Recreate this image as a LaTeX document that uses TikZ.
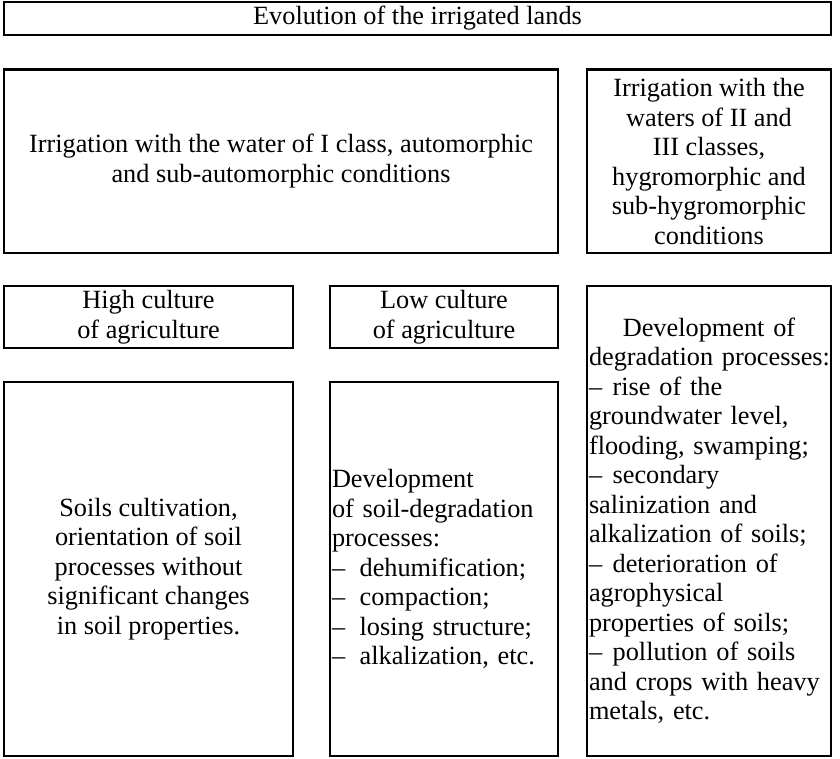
\documentclass[tikz,border=0pt]{standalone}
\usepackage{fontspec}
\setmainfont{Liberation Serif}
\usepackage{tikz}

\begin{document}
\begin{tikzpicture}[x=1pt, y=-1pt, every node/.style={font=\fontsize{26.3}{29.5}\selectfont},
	box/.style={draw, line width=2.6pt, outer sep=0pt, inner sep=2pt, anchor=north west, align=center},
	listbox/.style={box, align=left}]
			\useasboundingbox (0,0) rectangle (840,758);
			
			% Title
			\node[box, minimum width=827pt, minimum height=33pt] (title) at (4,2) {Evolution of the irrigated lands};
			
			% Water classes
			\node[box, minimum width=554pt, minimum height=183.5pt] (waterI) at (4,69.5)
				{Irrigation with the water of I class, automorphic\\and sub-automorphic conditions};
			\node[box, minimum width=244pt, minimum height=183.5pt] (waterII) at (587,69.5)
				{Irrigation with the\\waters of II and\\III classes,\\hygromorphic and\\sub-hygromorphic\\conditions};
			
			% Culture of agriculture
			\node[box, minimum width=289pt, minimum height=62pt] (high) at (4,286) {High culture\\of agriculture};
			\node[box, minimum width=228pt, minimum height=62pt] (low) at (330,286) {Low culture\\of agriculture};
			
			% Results
			\node[box, minimum width=289pt, minimum height=374pt] (cultiv) at (4,382)
				{Soils cultivation,\\orientation of soil\\processes without\\significant changes\\in soil properties.};
			\node[listbox, text width=224pt, minimum height=374pt] (soildeg) at (330,382)
				{Development\\of soil-degradation\\processes:\\
				--\hspace{0.55em}dehumification;\\--\hspace{0.55em}compaction;\\
				--\hspace{0.55em}losing structure;\\--\hspace{0.55em}alkalization, etc.};
			\node[listbox, text width=240pt, minimum height=470pt] (degrad) at (587,286)
				{\makebox[240pt][c]{Development of}\\\mbox{degradation processes:}\\
				--\hspace{0.4em}rise of the\\groundwater level,\\flooding, swamping;\\
				--\hspace{0.4em}secondary\\salinization and\\alkalization of soils;\\
				--\hspace{0.4em}deterioration of\\agrophysical\\properties of soils;\\
				--\hspace{0.4em}pollution of soils\\and crops with heavy\\metals, etc.};
		\end{tikzpicture}
\end{document}
